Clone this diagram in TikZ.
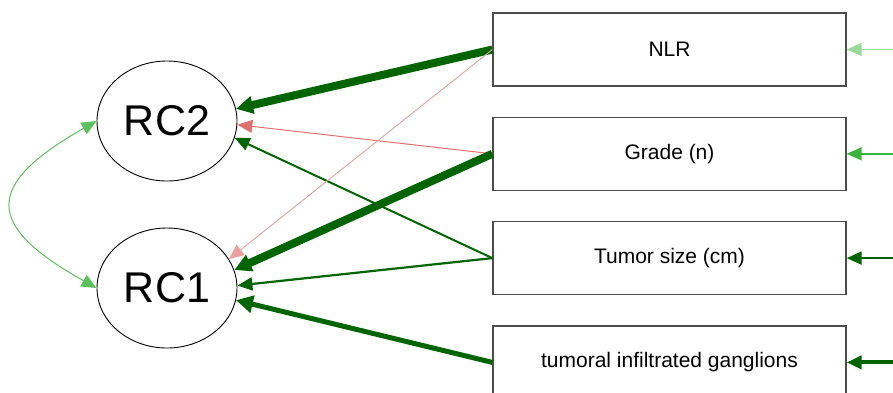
\documentclass[tikz,border=0pt]{standalone}
\usepackage{fontspec}
\setmainfont{Liberation Sans}
\usetikzlibrary{arrows.meta,positioning,shapes.geometric}
\definecolor{dgrn}{HTML}{006400}
\definecolor{mgrn}{HTML}{3CB43C}
\definecolor{lgrn}{HTML}{9AD89A}
\definecolor{cgrn}{HTML}{5CC05C}
\definecolor{rd}{HTML}{E07070}
\definecolor{lrd}{HTML}{E8A0A0}

\tikzset{
  fac/.style={ellipse,draw,line width=0.9pt,minimum width=140pt,minimum height=120pt,
    inner sep=0pt,font=\fontsize{43}{48}\selectfont},
  obs/.style={rectangle,draw=black!70,line width=1.3pt,minimum width=353pt,
    minimum height=73pt,inner sep=0pt,font=\fontsize{21}{25}\selectfont},
  bigtip/.style={>={Triangle[length=17pt,width=17pt]}},
}

\begin{document}
\begin{tikzpicture}[x=1pt,y=-1pt,>={Triangle[length=15pt,width=13pt]}]
\clip (0,0) rectangle (893,392);
% ---------- factors ----------
\node[fac] (rc2) at (167,121) {RC2};
\node[fac] (rc1) at (167,288) {RC1};
% ---------- observed variables ----------
\node[obs] (nlr) at (669.5,49.5) {NLR};
\node[obs,below=30pt of nlr] (grade) {Grade (n)};
\node[obs,below=30pt of grade] (tsize) {Tumor size (cm)};
\node[obs,below=30pt of tsize] (gang) {tumoral infiltrated ganglions};
% loadings on RC2
\draw[->,dgrn,line width=8pt,bigtip] (nlr.west) -- (rc2.10);
\draw[->,rd,line width=1pt] (grade.west) -- (rc2.-3);
\draw[->,dgrn,line width=2pt] (tsize.west) -- (rc2.-14);
% loadings on RC1
\draw[->,lrd,line width=0.9pt] (nlr.west) -- (rc1.25);
\draw[->,dgrn,line width=8pt,bigtip] (grade.west) -- (rc1.15);
\draw[->,dgrn,line width=2.2pt] (tsize.west) -- (rc1.2);
\draw[->,dgrn,line width=5pt,bigtip] (gang.west) -- (rc1.-10);
% factor covariance
\draw[<->,cgrn,line width=1pt] (rc2.west) .. controls (-16,185) and (-16,225) .. (rc1.west);
% residuals coming in from the right
\coordinate[right=60pt of nlr.east] (nlrin);
\coordinate[right=60pt of grade.east] (gradein);
\coordinate[right=60pt of tsize.east] (tsizein);
\coordinate[right=60pt of gang.east] (gangin);
\draw[<-,lgrn,line width=1.5pt] (nlr.east) -- (nlrin);
\draw[<-,mgrn,line width=1.5pt] (grade.east) -- (gradein);
\draw[<-,dgrn,line width=2pt] (tsize.east) -- (tsizein);
\draw[<-,dgrn,line width=4pt] (gang.east) -- (gangin);
\end{tikzpicture}
\end{document}
